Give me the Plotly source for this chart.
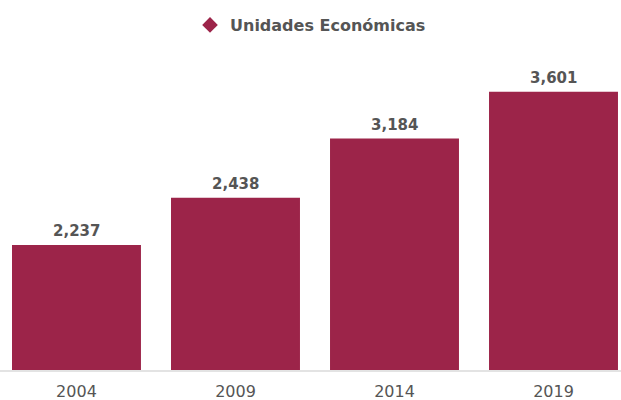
import plotly.graph_objects as go

years = ["2004", "2009", "2014", "2019"]
label_values = [2237, 2438, 3184, 3601]
# bar heights (axis does not start at zero)
bar_heights = [2237, 2657, 3184, 3601]
series_name = "Unidades Económicas"

bar_color = "#9c2449"
text_color = "#555555"
font_family = "DejaVu Sans"

fig = go.Figure()
fig.add_trace(go.Bar(
    x=years, y=bar_heights, marker=dict(color=bar_color, line=dict(width=0)),
    showlegend=False, hoverinfo="skip",
))
fig.add_trace(go.Scatter(
    x=[None], y=[None], mode="markers", name=series_name,
    marker=dict(symbol="diamond", size=14, color=bar_color),
))

for i, (h, v) in enumerate(zip(bar_heights, label_values)):
    fig.add_annotation(
        x=i, y=h, xref="x", yref="y", text=f"<b>{v:,}</b>", showarrow=False,
        yanchor="bottom", yshift=3,
        font=dict(family=font_family, size=15, color=text_color),
    )

fig.update_layout(
    width=621, height=400,
    margin=dict(l=0, r=0, t=60, b=30),
    paper_bgcolor="white", plot_bgcolor="white",
    bargap=0.189,
    font=dict(family=font_family, color=text_color),
    showlegend=True,
    legend=dict(
        orientation="h", x=0.5, xanchor="center", y=0.98, yanchor="top",
        yref="container", font=dict(family=font_family, size=16, color=text_color, weight="bold"),
        itemsizing="constant",
    ),
    xaxis=dict(
        type="category", range=[-0.481, 3.4245],
        showgrid=False, zeroline=False, showline=True, linecolor="#e3e3e3", linewidth=2,
        ticks="", tickfont=dict(family=font_family, size=16, color=text_color),
        ticklabelstandoff=6, automargin=False,
        fixedrange=True,
    ),
    yaxis=dict(
        range=[1124.8, 3883.1], visible=False, showgrid=False, zeroline=False,
        fixedrange=True, automargin=False,
    ),
)

fig.write_html("out.html")
